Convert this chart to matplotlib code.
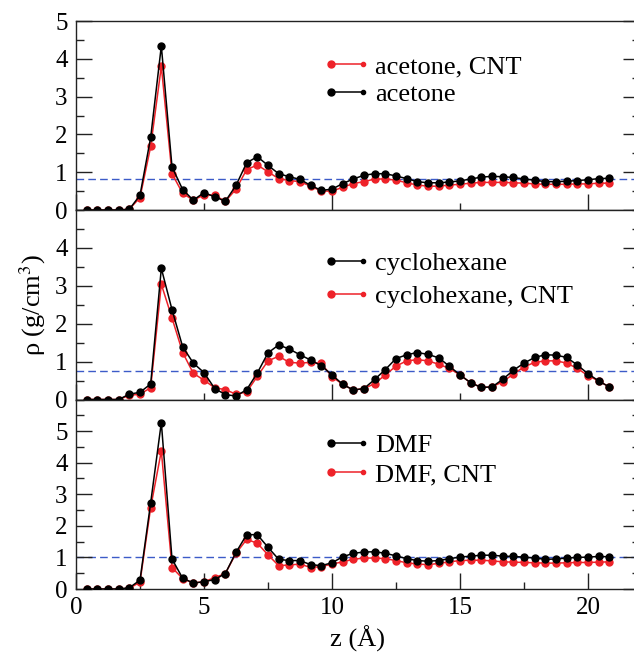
import numpy as np
import matplotlib
matplotlib.use("Agg")
import matplotlib.pyplot as plt
from matplotlib.lines import Line2D
from matplotlib.legend_handler import HandlerLine2D
from matplotlib.ticker import MultipleLocator

plt.rcParams['font.family'] = ['Liberation Serif', 'DejaVu Serif']
plt.rcParams['mathtext.fontset'] = 'stix'

z = [0.417, 0.833, 1.250, 1.667, 2.083, 2.500, 2.917, 3.333, 3.750, 4.167,
     4.583, 5.000, 5.417, 5.833, 6.250, 6.667, 7.083, 7.500, 7.917, 8.333,
     8.750, 9.167, 9.583, 10.000, 10.417, 10.833, 11.250, 11.667, 12.083, 12.500,
     12.917, 13.333, 13.750, 14.167, 14.583, 15.000, 15.417, 15.833, 16.250, 16.667,
     17.083, 17.500, 17.917, 18.333, 18.750, 19.167, 19.583, 20.000, 20.417, 20.833]

acetone = [0, 0, 0, 0, 0.02, 0.39, 1.92, 4.34, 1.14, 0.54,
           0.26, 0.46, 0.35, 0.23, 0.65, 1.25, 1.41, 1.18, 0.96, 0.88,
           0.81, 0.65, 0.52, 0.55, 0.70, 0.82, 0.92, 0.96, 0.96, 0.90,
           0.83, 0.75, 0.72, 0.72, 0.74, 0.77, 0.82, 0.87, 0.89, 0.88,
           0.86, 0.82, 0.79, 0.75, 0.75, 0.76, 0.78, 0.80, 0.83, 0.84]
acetone_cnt = [0, 0, 0, 0, 0.02, 0.33, 1.68, 3.80, 0.96, 0.44,
               0.26, 0.40, 0.39, 0.23, 0.55, 1.07, 1.19, 1.01, 0.83, 0.78,
               0.75, 0.63, 0.50, 0.50, 0.60, 0.70, 0.75, 0.82, 0.82, 0.79,
               0.72, 0.66, 0.63, 0.63, 0.66, 0.68, 0.71, 0.73, 0.73, 0.73,
               0.72, 0.71, 0.69, 0.68, 0.68, 0.68, 0.69, 0.69, 0.71, 0.71]
cyclohexane = [0, 0, 0, 0, 0.14, 0.19, 0.41, 3.46, 2.37, 1.39,
               0.96, 0.71, 0.29, 0.13, 0.09, 0.26, 0.70, 1.23, 1.44, 1.33,
               1.18, 1.04, 0.89, 0.65, 0.40, 0.25, 0.29, 0.53, 0.79, 1.08,
               1.18, 1.24, 1.19, 1.10, 0.88, 0.65, 0.44, 0.32, 0.33, 0.53,
               0.77, 0.96, 1.11, 1.18, 1.17, 1.11, 0.91, 0.68, 0.49, 0.33]
cyclohexane_cnt = [0, 0, 0, 0, 0.11, 0.14, 0.31, 3.04, 2.15, 1.24,
                   0.69, 0.51, 0.31, 0.26, 0.14, 0.20, 0.61, 1.02, 1.14, 0.98,
                   0.96, 0.98, 0.95, 0.60, 0.40, 0.25, 0.29, 0.42, 0.65, 0.88,
                   1.02, 1.05, 1.02, 0.93, 0.82, 0.65, 0.44, 0.32, 0.33, 0.47,
                   0.67, 0.86, 0.98, 1.02, 1.02, 0.96, 0.82, 0.63, 0.49, 0.33]
dmf = [0, 0, 0, 0, 0.04, 0.28, 2.73, 5.27, 0.95, 0.34,
       0.19, 0.23, 0.30, 0.49, 1.16, 1.72, 1.72, 1.32, 0.94, 0.90,
       0.90, 0.77, 0.74, 0.83, 1.02, 1.13, 1.17, 1.18, 1.13, 1.05,
       0.96, 0.90, 0.88, 0.90, 0.96, 1.01, 1.04, 1.07, 1.07, 1.04,
       1.03, 1.01, 0.98, 0.94, 0.95, 0.98, 1.00, 1.01, 1.03, 1.02]
dmf_cnt = [0, 0, 0, 0, 0.02, 0.22, 2.58, 4.37, 0.68, 0.33,
           0.19, 0.23, 0.36, 0.49, 1.13, 1.57, 1.45, 1.08, 0.74, 0.76,
           0.79, 0.68, 0.71, 0.79, 0.86, 0.94, 0.98, 0.98, 0.96, 0.90,
           0.83, 0.79, 0.77, 0.81, 0.86, 0.90, 0.91, 0.91, 0.89, 0.86,
           0.85, 0.84, 0.83, 0.82, 0.82, 0.83, 0.84, 0.84, 0.85, 0.86]

bulk_density = [0.81, 0.76, 1.00]
panel_labels = [("acetone", "acetone, CNT"),
                ("cyclohexane", "cyclohexane, CNT"),
                ("DMF", "DMF, CNT")]
ylims = [5, 5, 6]
ytick_labels = [[0, 1, 2, 3, 4, 5], [0, 1, 2, 3, 4], [0, 1, 2, 3, 4, 5]]
xticks_major = [0, 5, 10, 15, 20]

RED = '#ee2229'
BLUE = '#3c5bc8'


class EndDotsHandler(HandlerLine2D):
    def create_artists(self, legend, orig_handle, xdescent, ydescent,
                       width, height, fontsize, trans):
        c = orig_handle.get_color()
        y = (height - ydescent) / 2.0
        x0, x1 = -xdescent, -xdescent + width
        line = Line2D([x0, x1], [y, y], color=c, lw=orig_handle.get_linewidth())
        m1 = Line2D([x0], [y], marker='o', ms=orig_handle.get_markersize(),
                    color=c, ls='none')
        m2 = Line2D([x1], [y], marker='o', ms=orig_handle.get_markersize() * 0.6,
                    color=c, ls='none')
        for a in (line, m1, m2):
            a.set_transform(trans)
        return [line, m1, m2]


W, H = 634, 653
fig = plt.figure(figsize=(W / 100, H / 100), dpi=100)

left = 76 / W
width = (76 + 22 * 25.6) / W - left
panel_px = [(21, 210), (210, 399.5), (399.5, 589)]
axes = []
for (t, b) in panel_px:
    ax = fig.add_axes([left, 1 - b / H, width, (b - t) / H])
    axes.append(ax)

series = [(acetone, acetone_cnt), (cyclohexane, cyclohexane_cnt), (dmf, dmf_cnt)]
legend_tops = [55, 252, 434]
label_spacing = [0.15, 0.34, 0.19]
red_first = [True, False, False]

for k, ax in enumerate(axes):
    pure, cnt = series[k]
    ax.axhline(bulk_density[k], color=BLUE, lw=1.0, dashes=(5.5, 3.0), zorder=1)
    lc, = ax.plot(z, cnt, '-o', color=RED, lw=1.1, ms=5, zorder=2,
                  label=panel_labels[k][1])
    lp, = ax.plot(z, pure, '-o', color='black', lw=1.1, ms=5, zorder=3,
                  label=panel_labels[k][0])
    ax.set_xlim(0, 22)
    ax.set_ylim(0, ylims[k])
    ax.yaxis.set_minor_locator(MultipleLocator(0.5))
    ax.set_yticks(ytick_labels[k])
    ax.set_yticklabels([str(v) for v in ytick_labels[k]])
    if k < 2:
        ax.xaxis.set_major_locator(MultipleLocator(10))
        ax.xaxis.set_minor_locator(MultipleLocator(5))
        ax.tick_params(axis='x', labelbottom=False)
    else:
        ax.set_xticks(xticks_major)
        ax.set_xticklabels([str(v) for v in xticks_major])
        ax.xaxis.set_minor_locator(MultipleLocator(2.5))
    ax.tick_params(which='both', direction='in', left=True, right=True,
                   top=False, bottom=True, labelsize=18, width=1.0,
                   colors='#222222', labelcolor='black')
    ax.tick_params(which='major', length=11.5, pad=6)
    ax.tick_params(which='minor', length=5.4)
    for s in ax.spines.values():
        s.set_linewidth(1.0)
        s.set_color('#222222')

    handles = [lc, lp] if red_first[k] else [lp, lc]
    ax.legend(handles=handles, labels=[h.get_label() for h in handles],
              handler_map={Line2D: EndDotsHandler()},
              loc='upper left',
              bbox_to_anchor=(331 / W, 1 - legend_tops[k] / H),
              bbox_transform=fig.transFigure,
              frameon=False, fontsize=19, borderpad=0, borderaxespad=0,
              handlelength=32 / 26.4, handletextpad=0.45,
              labelspacing=label_spacing[k], handleheight=0.7)

axes[1].set_ylabel(r'ρ (g/cm$^{3}$)', fontsize=19)
axes[1].yaxis.set_label_coords((48 - 76) / (22 * 25.6), 0.5)
axes[2].set_xlabel('z (Å)', fontsize=19)
axes[2].xaxis.set_label_coords(0.5, (589 - 626) / 189.5)

fig.savefig('out.png', dpi=100)
